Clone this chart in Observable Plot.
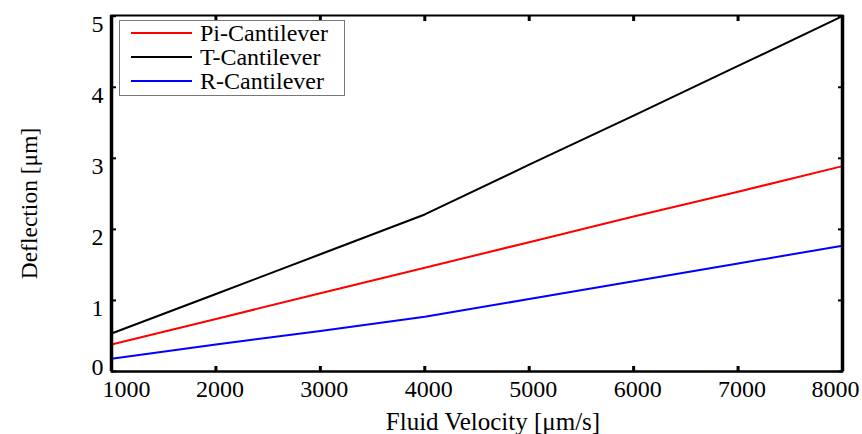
<!DOCTYPE html>
<html><head><meta charset="utf-8">
<script src="https://cdn.jsdelivr.net/npm/d3@7"></script>
<script src="https://cdn.jsdelivr.net/npm/@observablehq/plot@0.6"></script>
<style>
body{margin:0;background:#fff;}
#wrap{position:relative;width:862px;height:434px;font-family:"Liberation Serif","Times New Roman",serif;}
#wrap svg text{font-family:"Liberation Serif","Times New Roman",serif;}
#legend{position:absolute;left:119px;top:20px;width:226px;height:76px;border:1.5px solid #777;background:#fff;box-sizing:border-box;padding-top:0px;}
.item{display:flex;align-items:center;height:24px;font-size:24px;line-height:24px;}
.item span.ln{display:inline-block;width:61px;height:2px;margin-left:11px;margin-right:8px;}
</style></head>
<body><div id="wrap"></div>
<script>
const velocity = [1000, 2000, 3000, 4000, 5000, 6000, 7000, 8000];
const piCantilever = [0.38, 0.74, 1.10, 1.46, 1.82, 2.18, 2.53, 2.89];
const tCantilever = [0.535, 1.09, 1.65, 2.21, 2.91, 3.60, 4.30, 5.00];
const rCantilever = [0.18, 0.38, 0.57, 0.77, 1.02, 1.27, 1.52, 1.77];
const seriesNames = ["Pi-Cantilever", "T-Cantilever", "R-Cantilever"];
const seriesColors = ["#ff0000", "#000000", "#0000ff"];
const xTicks = [1000, 2000, 3000, 4000, 5000, 6000, 7000, 8000];
const yTicks = [0, 1, 2, 3, 4, 5];
const xTitle = "Fluid Velocity [μm/s]";
const yTitle = "Deflection [μm]";

const seriesValues = [piCantilever, tCantilever, rCantilever];
const data = seriesNames.flatMap((name, i) => velocity.map((v, j) => ({name, v, d: seriesValues[i][j]})));
const xMid = xTicks.slice(1, -1);
const yUpper = yTicks.slice(1);
const fmt = d => String(d);
const serif = '"Liberation Serif","Times New Roman",serif';

const chart = Plot.plot({
  width: 862, height: 434,
  marginLeft: 111, marginRight: 20, marginTop: 15, marginBottom: 63,
  style: {fontFamily: serif, fontSize: "24px", color: "#000", background: "#fff"},
  x: {domain: [1000, 8000]},
  y: {domain: [0, 5.01]},
  color: {domain: seriesNames, range: seriesColors},
  marks: [
    Plot.line(data, {x: "v", y: "d", z: "name", stroke: "name", strokeWidth: 2}),
    Plot.frame({stroke: "#000", strokeWidth: 2}),
    Plot.ruleX([1000, 8000], {stroke: "#000", strokeWidth: 3.5}),
    Plot.ruleY([0], {stroke: "#000", strokeWidth: 2}),
    // tick marks only (inward)
    Plot.axisX({anchor: "bottom", ticks: xTicks, tickSize: -5, tickFormat: () => "", label: null, strokeWidth: 3}),
    Plot.axisX({anchor: "top", ticks: xTicks, tickSize: -5, tickFormat: () => "", label: null, strokeWidth: 3}),
    Plot.axisY({anchor: "left", ticks: yTicks, tickSize: -5, tickFormat: () => "", label: null, strokeWidth: 2}),
    Plot.axisY({anchor: "right", ticks: yTicks, tickSize: -5, tickFormat: () => "", label: null, strokeWidth: 2}),
    // tick labels
    Plot.axisX({anchor: "bottom", ticks: xMid, tickSize: 0, tickPadding: 8, dx: 4, tickFormat: fmt, fontSize: 24, fontFamily: serif, label: null}),
    Plot.axisX({anchor: "bottom", ticks: [xTicks[0]], tickSize: 0, tickPadding: 8, dx: 15, tickFormat: fmt, fontSize: 24, fontFamily: serif, label: null}),
    Plot.axisX({anchor: "bottom", ticks: [xTicks[xTicks.length - 1]], tickSize: 0, tickPadding: 8, dx: -7, tickFormat: fmt, fontSize: 24, fontFamily: serif, label: null}),
    Plot.axisY({anchor: "left", ticks: yUpper, tickSize: 0, tickPadding: 8, dy: 8, tickFormat: fmt, fontSize: 24, fontFamily: serif, label: null}),
    Plot.axisY({anchor: "left", ticks: [yTicks[0]], tickSize: 0, tickPadding: 8, dy: -4, tickFormat: fmt, fontSize: 24, fontFamily: serif, label: null}),
    // axis titles
    Plot.text([xTitle], {text: d => d, frameAnchor: "bottom", dy: 50, dx: 16, lineAnchor: "middle", textAnchor: "middle", fontSize: 25, fontFamily: serif}),
    Plot.text([yTitle], {text: d => d, frameAnchor: "left", dx: -82, dy: 10, rotate: -90, lineAnchor: "middle", textAnchor: "middle", fontSize: 23.5, fontFamily: serif})
  ]
});
const wrap = document.getElementById("wrap");
wrap.appendChild(chart);

const legend = document.createElement("div");
legend.id = "legend";
seriesNames.forEach((n, i) => {
  const it = document.createElement("div");
  it.className = "item";
  it.innerHTML = `<span class="ln" style="background:${seriesColors[i]}"></span><span>${n}</span>`;
  legend.appendChild(it);
});
wrap.appendChild(legend);
</script></body></html>
